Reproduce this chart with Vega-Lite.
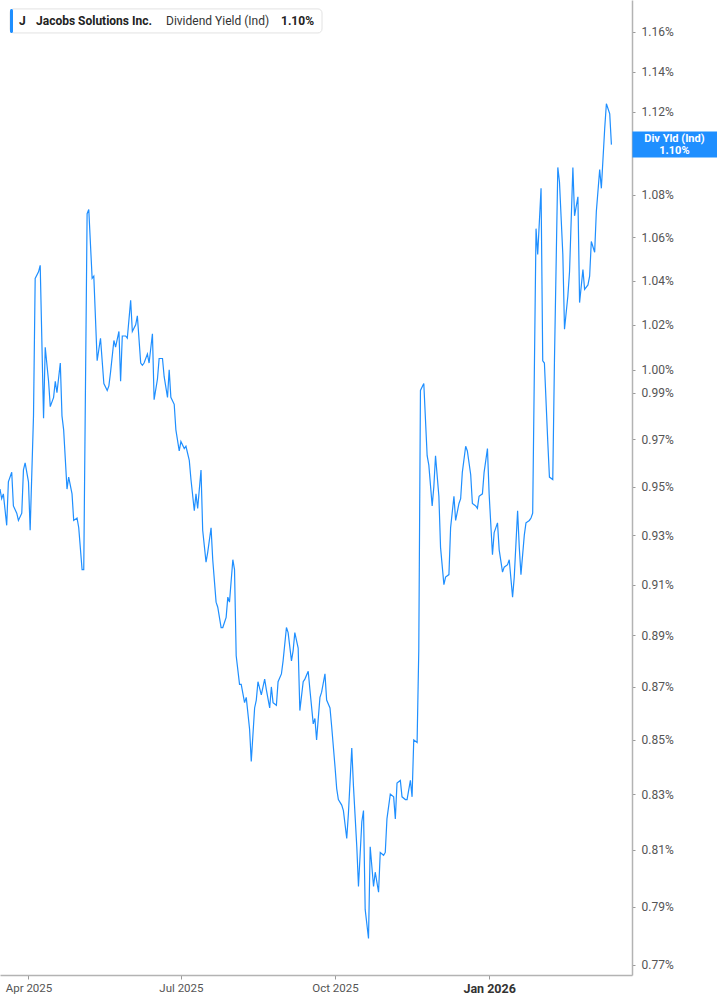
{
  "$schema": "https://vega.github.io/schema/vega-lite/v6.json",
  "width": 632,
  "height": 975,
  "padding": 0,
  "background": "white",
  "config": {"view": {"stroke": null}, "axis": {"grid": false}},
  "data": {"values": [
    {"date": "2025-03-15", "yield": 0.949}, {"date": "2025-03-16", "yield": 0.945}, {"date": "2025-03-17", "yield": 0.947},
    {"date": "2025-03-19", "yield": 0.934}, {"date": "2025-03-20", "yield": 0.952}, {"date": "2025-03-22", "yield": 0.956},
    {"date": "2025-03-23", "yield": 0.942}, {"date": "2025-03-25", "yield": 0.939}, {"date": "2025-03-26", "yield": 0.936},
    {"date": "2025-03-28", "yield": 0.939}, {"date": "2025-03-29", "yield": 0.957}, {"date": "2025-03-30", "yield": 0.960},
    {"date": "2025-04-01", "yield": 0.952}, {"date": "2025-04-02", "yield": 0.932}, {"date": "2025-04-04", "yield": 0.980},
    {"date": "2025-04-05", "yield": 1.041}, {"date": "2025-04-07", "yield": 1.044}, {"date": "2025-04-08", "yield": 1.047},
    {"date": "2025-04-10", "yield": 0.979}, {"date": "2025-04-11", "yield": 1.010}, {"date": "2025-04-13", "yield": 0.995},
    {"date": "2025-04-14", "yield": 0.984}, {"date": "2025-04-16", "yield": 0.988}, {"date": "2025-04-17", "yield": 0.995},
    {"date": "2025-04-18", "yield": 0.990}, {"date": "2025-04-20", "yield": 1.003}, {"date": "2025-04-21", "yield": 0.980},
    {"date": "2025-04-22", "yield": 0.974}, {"date": "2025-04-24", "yield": 0.949}, {"date": "2025-04-25", "yield": 0.954},
    {"date": "2025-04-27", "yield": 0.947}, {"date": "2025-04-28", "yield": 0.936}, {"date": "2025-04-30", "yield": 0.937},
    {"date": "2025-05-01", "yield": 0.933}, {"date": "2025-05-03", "yield": 0.916}, {"date": "2025-05-04", "yield": 0.916},
    {"date": "2025-05-06", "yield": 1.071}, {"date": "2025-05-07", "yield": 1.073}, {"date": "2025-05-09", "yield": 1.041},
    {"date": "2025-05-10", "yield": 1.042}, {"date": "2025-05-12", "yield": 1.004}, {"date": "2025-05-13", "yield": 1.009},
    {"date": "2025-05-14", "yield": 1.014}, {"date": "2025-05-16", "yield": 0.994}, {"date": "2025-05-18", "yield": 0.991},
    {"date": "2025-05-19", "yield": 0.993}, {"date": "2025-05-20", "yield": 0.999}, {"date": "2025-05-22", "yield": 1.013},
    {"date": "2025-05-23", "yield": 1.010}, {"date": "2025-05-25", "yield": 1.017}, {"date": "2025-05-26", "yield": 0.995},
    {"date": "2025-05-27", "yield": 1.015}, {"date": "2025-05-29", "yield": 1.015}, {"date": "2025-05-30", "yield": 1.014},
    {"date": "2025-06-01", "yield": 1.031}, {"date": "2025-06-02", "yield": 1.017}, {"date": "2025-06-04", "yield": 1.020},
    {"date": "2025-06-05", "yield": 1.024}, {"date": "2025-06-07", "yield": 1.003}, {"date": "2025-06-08", "yield": 1.002},
    {"date": "2025-06-09", "yield": 1.003}, {"date": "2025-06-11", "yield": 1.007}, {"date": "2025-06-12", "yield": 1.003},
    {"date": "2025-06-14", "yield": 1.016}, {"date": "2025-06-15", "yield": 0.987}, {"date": "2025-06-17", "yield": 0.996},
    {"date": "2025-06-18", "yield": 1.005}, {"date": "2025-06-20", "yield": 1.005}, {"date": "2025-06-21", "yield": 0.997},
    {"date": "2025-06-23", "yield": 0.988}, {"date": "2025-06-24", "yield": 1.000}, {"date": "2025-06-25", "yield": 0.988},
    {"date": "2025-06-27", "yield": 0.985}, {"date": "2025-06-28", "yield": 0.974}, {"date": "2025-06-30", "yield": 0.965},
    {"date": "2025-07-01", "yield": 0.969}, {"date": "2025-07-03", "yield": 0.966}, {"date": "2025-07-04", "yield": 0.967},
    {"date": "2025-07-06", "yield": 0.961}, {"date": "2025-07-07", "yield": 0.953}, {"date": "2025-07-09", "yield": 0.940},
    {"date": "2025-07-10", "yield": 0.947}, {"date": "2025-07-11", "yield": 0.941}, {"date": "2025-07-13", "yield": 0.957},
    {"date": "2025-07-14", "yield": 0.932}, {"date": "2025-07-16", "yield": 0.919}, {"date": "2025-07-17", "yield": 0.923},
    {"date": "2025-07-19", "yield": 0.933}, {"date": "2025-07-20", "yield": 0.920}, {"date": "2025-07-22", "yield": 0.903},
    {"date": "2025-07-23", "yield": 0.901}, {"date": "2025-07-25", "yield": 0.893}, {"date": "2025-07-26", "yield": 0.893},
    {"date": "2025-07-28", "yield": 0.897}, {"date": "2025-07-29", "yield": 0.905}, {"date": "2025-07-30", "yield": 0.903},
    {"date": "2025-08-01", "yield": 0.920}, {"date": "2025-08-02", "yield": 0.916}, {"date": "2025-08-03", "yield": 0.882},
    {"date": "2025-08-05", "yield": 0.871}, {"date": "2025-08-06", "yield": 0.871}, {"date": "2025-08-08", "yield": 0.864},
    {"date": "2025-08-09", "yield": 0.866}, {"date": "2025-08-11", "yield": 0.854}, {"date": "2025-08-12", "yield": 0.842},
    {"date": "2025-08-14", "yield": 0.862}, {"date": "2025-08-15", "yield": 0.865}, {"date": "2025-08-16", "yield": 0.872},
    {"date": "2025-08-18", "yield": 0.867}, {"date": "2025-08-20", "yield": 0.873}, {"date": "2025-08-21", "yield": 0.869},
    {"date": "2025-08-23", "yield": 0.862}, {"date": "2025-08-24", "yield": 0.870}, {"date": "2025-08-25", "yield": 0.864},
    {"date": "2025-08-27", "yield": 0.863}, {"date": "2025-08-28", "yield": 0.872}, {"date": "2025-08-30", "yield": 0.875},
    {"date": "2025-08-31", "yield": 0.880}, {"date": "2025-09-02", "yield": 0.893}, {"date": "2025-09-03", "yield": 0.891},
    {"date": "2025-09-05", "yield": 0.880}, {"date": "2025-09-06", "yield": 0.884}, {"date": "2025-09-07", "yield": 0.891},
    {"date": "2025-09-09", "yield": 0.885}, {"date": "2025-09-10", "yield": 0.861}, {"date": "2025-09-12", "yield": 0.872},
    {"date": "2025-09-13", "yield": 0.873}, {"date": "2025-09-15", "yield": 0.876}, {"date": "2025-09-16", "yield": 0.869},
    {"date": "2025-09-18", "yield": 0.856}, {"date": "2025-09-19", "yield": 0.858}, {"date": "2025-09-20", "yield": 0.850},
    {"date": "2025-09-22", "yield": 0.866}, {"date": "2025-09-23", "yield": 0.868}, {"date": "2025-09-25", "yield": 0.875},
    {"date": "2025-09-26", "yield": 0.865}, {"date": "2025-09-28", "yield": 0.862}, {"date": "2025-09-29", "yield": 0.855},
    {"date": "2025-10-01", "yield": 0.840}, {"date": "2025-10-02", "yield": 0.832}, {"date": "2025-10-03", "yield": 0.828},
    {"date": "2025-10-05", "yield": 0.826}, {"date": "2025-10-06", "yield": 0.824}, {"date": "2025-10-08", "yield": 0.814},
    {"date": "2025-10-09", "yield": 0.823}, {"date": "2025-10-11", "yield": 0.847}, {"date": "2025-10-12", "yield": 0.833},
    {"date": "2025-10-14", "yield": 0.811}, {"date": "2025-10-15", "yield": 0.797}, {"date": "2025-10-17", "yield": 0.820},
    {"date": "2025-10-18", "yield": 0.824}, {"date": "2025-10-19", "yield": 0.789}, {"date": "2025-10-21", "yield": 0.779},
    {"date": "2025-10-22", "yield": 0.811}, {"date": "2025-10-24", "yield": 0.797}, {"date": "2025-10-25", "yield": 0.802},
    {"date": "2025-10-27", "yield": 0.795}, {"date": "2025-10-28", "yield": 0.809}, {"date": "2025-10-30", "yield": 0.808},
    {"date": "2025-10-31", "yield": 0.809}, {"date": "2025-11-01", "yield": 0.821}, {"date": "2025-11-03", "yield": 0.830},
    {"date": "2025-11-05", "yield": 0.829}, {"date": "2025-11-06", "yield": 0.821}, {"date": "2025-11-07", "yield": 0.834},
    {"date": "2025-11-09", "yield": 0.835}, {"date": "2025-11-10", "yield": 0.829}, {"date": "2025-11-12", "yield": 0.828},
    {"date": "2025-11-13", "yield": 0.828}, {"date": "2025-11-15", "yield": 0.835}, {"date": "2025-11-16", "yield": 0.829},
    {"date": "2025-11-17", "yield": 0.850}, {"date": "2025-11-19", "yield": 0.849}, {"date": "2025-11-20", "yield": 0.884},
    {"date": "2025-11-21", "yield": 0.991}, {"date": "2025-11-23", "yield": 0.994}, {"date": "2025-11-25", "yield": 0.963},
    {"date": "2025-11-26", "yield": 0.959}, {"date": "2025-11-28", "yield": 0.942}, {"date": "2025-11-29", "yield": 0.950},
    {"date": "2025-11-30", "yield": 0.963}, {"date": "2025-12-02", "yield": 0.946}, {"date": "2025-12-03", "yield": 0.925},
    {"date": "2025-12-05", "yield": 0.910}, {"date": "2025-12-06", "yield": 0.913}, {"date": "2025-12-08", "yield": 0.914},
    {"date": "2025-12-09", "yield": 0.933}, {"date": "2025-12-11", "yield": 0.946}, {"date": "2025-12-12", "yield": 0.936},
    {"date": "2025-12-14", "yield": 0.943}, {"date": "2025-12-15", "yield": 0.945}, {"date": "2025-12-16", "yield": 0.956},
    {"date": "2025-12-18", "yield": 0.967}, {"date": "2025-12-19", "yield": 0.965}, {"date": "2025-12-21", "yield": 0.955},
    {"date": "2025-12-22", "yield": 0.943}, {"date": "2025-12-24", "yield": 0.942}, {"date": "2025-12-25", "yield": 0.941},
    {"date": "2025-12-26", "yield": 0.946}, {"date": "2025-12-28", "yield": 0.947}, {"date": "2025-12-29", "yield": 0.956},
    {"date": "2025-12-31", "yield": 0.966}, {"date": "2026-01-01", "yield": 0.947}, {"date": "2026-01-03", "yield": 0.922},
    {"date": "2026-01-04", "yield": 0.931}, {"date": "2026-01-06", "yield": 0.935}, {"date": "2026-01-07", "yield": 0.924},
    {"date": "2026-01-09", "yield": 0.915}, {"date": "2026-01-10", "yield": 0.917}, {"date": "2026-01-12", "yield": 0.918},
    {"date": "2026-01-13", "yield": 0.920}, {"date": "2026-01-15", "yield": 0.905}, {"date": "2026-01-16", "yield": 0.913},
    {"date": "2026-01-18", "yield": 0.940}, {"date": "2026-01-19", "yield": 0.925}, {"date": "2026-01-20", "yield": 0.914},
    {"date": "2026-01-22", "yield": 0.930}, {"date": "2026-01-23", "yield": 0.935}, {"date": "2026-01-25", "yield": 0.936},
    {"date": "2026-01-26", "yield": 0.937}, {"date": "2026-01-27", "yield": 0.939}, {"date": "2026-01-29", "yield": 1.064},
    {"date": "2026-01-30", "yield": 1.052}, {"date": "2026-02-01", "yield": 1.083}, {"date": "2026-02-02", "yield": 1.004},
    {"date": "2026-02-03", "yield": 1.003}, {"date": "2026-02-05", "yield": 0.969}, {"date": "2026-02-06", "yield": 0.954},
    {"date": "2026-02-08", "yield": 0.953}, {"date": "2026-02-09", "yield": 1.004}, {"date": "2026-02-11", "yield": 1.093},
    {"date": "2026-02-12", "yield": 1.086}, {"date": "2026-02-14", "yield": 1.052}, {"date": "2026-02-15", "yield": 1.018},
    {"date": "2026-02-17", "yield": 1.033}, {"date": "2026-02-18", "yield": 1.044}, {"date": "2026-02-20", "yield": 1.093},
    {"date": "2026-02-21", "yield": 1.070}, {"date": "2026-02-23", "yield": 1.079}, {"date": "2026-02-24", "yield": 1.030},
    {"date": "2026-02-26", "yield": 1.045}, {"date": "2026-02-27", "yield": 1.036}, {"date": "2026-03-01", "yield": 1.038},
    {"date": "2026-03-02", "yield": 1.042}, {"date": "2026-03-03", "yield": 1.058}, {"date": "2026-03-05", "yield": 1.053},
    {"date": "2026-03-06", "yield": 1.072}, {"date": "2026-03-08", "yield": 1.092}, {"date": "2026-03-09", "yield": 1.083},
    {"date": "2026-03-11", "yield": 1.112}, {"date": "2026-03-12", "yield": 1.124}, {"date": "2026-03-14", "yield": 1.119},
    {"date": "2026-03-15", "yield": 1.104}
  ]},
  "layer": [
    {
      "mark": {"type": "line", "color": "#1f8fff", "strokeWidth": 1.2, "clip": true},
      "encoding": {
        "x": {
          "field": "date", "type": "temporal", "title": null,
          "scale": {"type": "utc", "domain": [{"year": 2025, "month": "mar", "date": 15, "utc": true}, {"year": 2026, "month": "mar", "date": 27, "hours": 7, "utc": true}], "nice": false},
          "axis": {
            "values": [
              {"year": 2025, "month": "apr", "date": 1, "utc": true},
              {"year": 2025, "month": "jul", "date": 1, "utc": true},
              {"year": 2025, "month": "oct", "date": 1, "utc": true},
              {"year": 2026, "month": "jan", "date": 1, "utc": true}
            ],
            "labelExpr": "utcFormat(datum.value, '%b %Y')",
            "labelFont": "Roboto", "labelFontSize": {"condition": {"test": "utcmonth(datum.value) == 0", "value": 12.5}, "value": 11.5},
            "labelFontWeight": {"condition": {"test": "utcmonth(datum.value) == 0", "value": "bold"}, "value": "normal"},
            "labelColor": {"condition": {"test": "utcmonth(datum.value) == 0", "value": "#333333"}, "value": "#555555"},
            "labelFlush": false, "labelPadding": 3,
            "domainColor": "#b3b3b3", "domainWidth": 1.5,
            "tickColor": "#9a9a9a", "tickSize": 4
          }
        },
        "y": {
          "field": "yield", "type": "quantitative", "title": null,
          "scale": {"type": "log", "domain": [0.7666, 1.1764], "nice": false, "zero": false},
          "axis": {
            "orient": "right",
            "values": [0.77, 0.79, 0.81, 0.83, 0.85, 0.87, 0.89, 0.91, 0.93, 0.95, 0.97, 0.99, 1.0, 1.02, 1.04, 1.06, 1.08, 1.12, 1.14, 1.16],
            "labelExpr": "format(datum.value, '.2f') + '%'",
            "labelFont": "Roboto", "labelFontSize": 12, "labelColor": "#555555", "labelPadding": 6,
            "domainColor": "#b3b3b3", "domainWidth": 1.5,
            "tickColor": "#9a9a9a", "tickSize": 3
          }
        }
      }
    },
    {
      "transform": [{"filter": "time(datum.date) == utc(2026, 2, 15)"}],
      "mark": {"type": "rule", "color": "#1f8fff", "strokeWidth": 26, "strokeCap": "butt", "xOffset": 21, "x2Offset": 106},
      "encoding": {
        "x": {"field": "date", "type": "temporal"},
        "x2": {"field": "date"},
        "y": {"field": "yield", "type": "quantitative"}
      }
    },
    {
      "transform": [{"filter": "time(datum.date) == utc(2026, 2, 15)"}],
      "mark": {"type": "text", "color": "white", "font": "Roboto", "fontSize": 11, "fontWeight": "bold", "align": "center", "baseline": "middle", "dx": 63, "dy": -6},
      "encoding": {
        "x": {"field": "date", "type": "temporal"},
        "y": {"field": "yield", "type": "quantitative"},
        "text": {"value": "Div Yld (Ind)"}
      }
    },
    {
      "transform": [{"filter": "time(datum.date) == utc(2026, 2, 15)"}],
      "mark": {"type": "text", "color": "white", "font": "Roboto", "fontSize": 11, "fontWeight": "bold", "align": "center", "baseline": "middle", "dx": 63, "dy": 6},
      "encoding": {
        "x": {"field": "date", "type": "temporal"},
        "y": {"field": "yield", "type": "quantitative"},
        "text": {"value": "1.10%"}
      }
    },
    {
      "data": {"values": [{}]},
      "mark": {"type": "rect", "fill": "white", "stroke": "#e2e2e2", "strokeWidth": 1, "cornerRadius": 4, "xOffset": 10, "x2Offset": 322},
      "encoding": {
        "x": {"datum": {"year": 2025, "month": "mar", "date": 15, "utc": true}, "type": "temporal"},
        "x2": {"datum": {"year": 2025, "month": "mar", "date": 15, "utc": true}},
        "y": {"datum": 1.1718, "type": "quantitative"},
        "y2": {"datum": 1.1595}
      }
    },
    {
      "data": {"values": [{}]},
      "mark": {"type": "rect", "fill": "#1f8fff", "cornerRadius": 1.5, "xOffset": 10, "x2Offset": 13},
      "encoding": {
        "x": {"datum": {"year": 2025, "month": "mar", "date": 15, "utc": true}, "type": "temporal"},
        "x2": {"datum": {"year": 2025, "month": "mar", "date": 15, "utc": true}},
        "y": {"datum": 1.1718, "type": "quantitative"},
        "y2": {"datum": 1.1595}
      }
    },
    {
      "data": {"values": [
        {"label": "J", "pos": 19},
        {"label": "Jacobs Solutions Inc.", "pos": 36},
        {"label": "Dividend Yield (Ind)", "pos": 166},
        {"label": "1.10%", "pos": 281}
      ]},
      "layer": [
        {"transform": [{"filter": "datum.pos == 19"}], "mark": {"type": "text", "font": "Roboto", "fontSize": 12, "fontWeight": "bold", "color": "#222222", "align": "left", "baseline": "middle", "dx": 19}},
        {"transform": [{"filter": "datum.pos == 36"}], "mark": {"type": "text", "font": "Roboto", "fontSize": 12, "fontWeight": "bold", "color": "#222222", "align": "left", "baseline": "middle", "dx": 36}},
        {"transform": [{"filter": "datum.pos == 166"}], "mark": {"type": "text", "font": "Roboto", "fontSize": 12, "fontWeight": "normal", "color": "#333333", "align": "left", "baseline": "middle", "dx": 166}},
        {"transform": [{"filter": "datum.pos == 281"}], "mark": {"type": "text", "font": "Roboto", "fontSize": 12, "fontWeight": "bold", "color": "#222222", "align": "left", "baseline": "middle", "dx": 281}}
      ],
      "encoding": {
        "x": {"datum": {"year": 2025, "month": "mar", "date": 15, "utc": true}, "type": "temporal"},
        "y": {"datum": 1.1656, "type": "quantitative"},
        "text": {"field": "label"}
      }
    }
  ]
}
